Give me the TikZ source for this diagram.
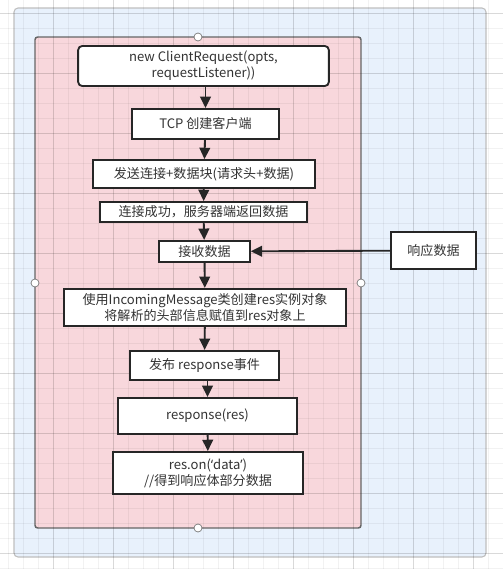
\documentclass[tikz,border=0pt]{standalone}
\usepackage{fontspec}
\setmainfont{Noto Sans CJK SC}
\newfontfamily\latinfont{Noto Sans}
\usetikzlibrary{arrows.meta}
\definecolor{panelblue}{HTML}{E8F1FC}
\definecolor{panelpink}{HTML}{F8D7DC}
\definecolor{textgray}{HTML}{333333}
\tikzset{
	stepbox/.style={draw=black!85, line width=1.4pt, fill=white, text=textgray, align=center, inner sep=0pt, font=\fontsize{9.8}{12}\selectfont},
	flow/.style={draw=black!85, line width=1.4pt, -{Triangle[length=8.5pt,width=8pt]}},
	handle/.style={circle, draw=black!55, fill=white, line width=0.5pt, inner sep=0pt, minimum size=6pt}
}
\begin{document}
\begin{tikzpicture}[x=0.75pt,y=-0.75pt]
		\useasboundingbox (0,0) rectangle (503,569);
		\fill[white] (0,0) rectangle (503,569);
		% panels
		\draw[fill=panelblue, draw=black!25, line width=0.8pt, rounded corners=3pt] (14,8) rectangle (486,557);
		\draw[fill=panelpink, draw=black!60, line width=1.1pt, rounded corners=2pt] (35,37) rectangle (361,528);
		% grid
		\foreach \x in {8,23,...,503} \draw[black, opacity=0.05, line width=0.4pt] (\x,0)--(\x,569);
		\foreach \y in {13,28,...,569} \draw[black, opacity=0.05, line width=0.4pt] (0,\y)--(503,\y);
		\foreach \x in {53,113,...,503} \draw[black, opacity=0.1, line width=0.5pt] (\x,0)--(\x,569);
		\foreach \y in {13,73,...,569} \draw[black, opacity=0.1, line width=0.5pt] (0,\y)--(503,\y);
		\node[handle] (hn) at (198,37) {};
		\node[handle] (hw) at (35,283) {};
		\node[handle] (he) at (361,283) {};
		\node[handle] (hs) at (198,528) {};
		% steps
		\node[stepbox, rounded corners=3pt, minimum width=188pt, minimum height=30pt] (client) at (203.5,66) {new ClientRequest(opts,\\requestListener))};
		\node[stepbox, minimum width=110pt, minimum height=22.5pt] (tcp) at (205.5,124) {TCP 创建客户端};
		\node[stepbox, minimum width=166.5pt, minimum height=21pt] (send) at (204,174) {发送连接+数据块(请求头+数据)};
		\node[stepbox, minimum width=155pt, minimum height=15pt] (conn) at (203.5,212) {连接成功，服务器端返回数据};
		\node[stepbox, minimum width=68pt, minimum height=16pt] (recv) at (204.5,251.5) {接收数据};
		\node[stepbox, minimum width=64pt, minimum height=28pt] (resp) at (433.5,250.5) {响应数据};
		\node[stepbox, minimum width=211.5pt, minimum height=28pt] (incoming) at (205,307.5) {使用IncomingMessage类创建res实例对象\\将解析的头部信息赋值到res对象上};
		\node[stepbox, minimum width=112pt, minimum height=22pt] (emit) at (204.5,365.5) {发布 response事件};
		\node[stepbox, minimum width=134pt, minimum height=27pt] (cb) at (207.5,416) {response(res)};
		\node[stepbox, minimum width=142.5pt, minimum height=31.5pt] (ondata) at (208,473) {res.on({\latinfont ‘}data{\latinfont ’})\\//得到响应体部分数据};
		% arrows
		\draw[flow] (client.south -| tcp) -- (tcp.north);
		\draw[flow] (tcp) -- (send);
		\draw[flow] (send) -- (conn);
		\draw[flow] (conn) -- (recv);
		\draw[flow] (recv) -- (incoming);
		\draw[flow] (incoming) -- (emit);
		\draw[flow] (emit.south -| cb) -- (cb.north);
		\draw[flow] (cb) -- (ondata);
		\draw[flow] (resp) -- (recv);
	\end{tikzpicture}
\end{document}
